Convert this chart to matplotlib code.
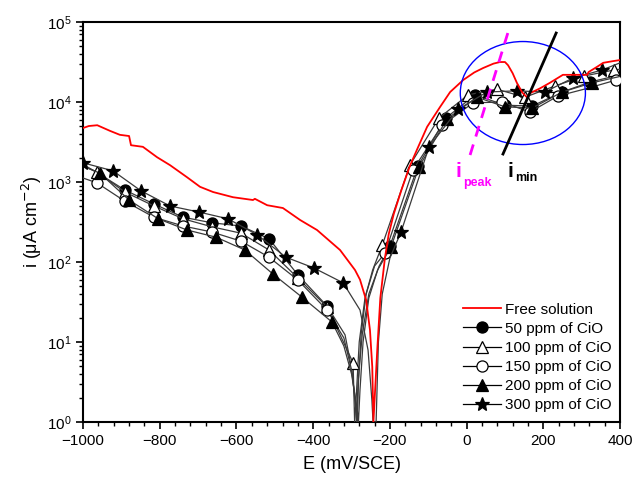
import matplotlib
matplotlib.use("Agg")
import matplotlib.pyplot as plt
from matplotlib.patches import Ellipse
from matplotlib.lines import Line2D
import matplotlib.ticker as mticker

plt.rcParams["font.family"] = ["Liberation Sans", "DejaVu Sans"]

# free solution (red), E in mV/SCE, log10(i)
free_E = [-1000, -985, -963, -930, -904, -880, -875, -844, -807, -773, -729, -695,
          -661, -609, -557, -552, -520, -479, -434, -390, -330, -291, -278, -262,
          -252, -246, -243, -233, -225, -213, -203, -190, -170, -148, -128, -103,
          -69, -43, -9, 20, 43, 70, 87, 100, 108, 120, 131, 145, 157, 165, 191,
          217, 251, 288, 314, 318, 340, 356, 380, 400]
free_log = [3.675, 3.70, 3.71, 3.64, 3.59, 3.575, 3.46, 3.44, 3.31, 3.21, 3.06, 2.94,
            2.875, 2.81, 2.775, 2.79, 2.71, 2.675, 2.525, 2.40, 2.15, 1.90, 1.78, 1.525,
            1.15, 0.69, 0.0, 0.90, 1.55, 2.05, 2.35, 2.60, 2.90, 3.20, 3.42, 3.69,
            3.94, 4.125, 4.275, 4.37, 4.425, 4.48, 4.50, 4.50, 4.46, 4.36, 4.24, 4.12,
            4.06, 4.11, 4.17, 4.24, 4.34, 4.34, 4.34, 4.375, 4.44, 4.49, 4.51, 4.525]

# inhibitor series: line points and marker points (E, log10 i)
c50_E = [-1000, -964, -891, -815, -739, -664, -588, -515, -440, -364, -317, -299,
         -289, -287, -283, -272, -255, -228, -200, -127, -54, 22, 100, 171, 249, 322, 400]
c50_log = [3.22, 3.12, 2.90, 2.725, 2.56, 2.49, 2.45, 2.29, 1.84, 1.45, 1.09, 0.65,
           0.15, 0.0, 0.5, 1.1, 1.6, 1.95, 2.20, 3.20, 3.80, 4.09, 3.96, 3.95, 4.125, 4.25, 4.34]
c50_mk = [-891, -815, -739, -664, -588, -515, -440, -364, -200, -127, -54, 22, 100, 171, 249, 322]

c100_E = [-1000, -964, -891, -815, -739, -664, -588, -515, -440, -364, -296, -292,
          -288, -280, -265, -245, -220, -148, -72, 4, 79, 152, 230, 306, 384, 400]
c100_log = [3.20, 3.125, 2.875, 2.70, 2.54, 2.44, 2.36, 2.15, 1.80, 1.44, 0.74, 0.0,
            0.3, 1.0, 1.55, 1.9, 2.21, 3.21, 3.80, 4.09, 4.16, 4.06, 4.20, 4.325, 4.40, 4.41]
c100_mk = [-964, -891, -815, -739, -664, -588, -515, -440, -364, -296, -220, -148,
           -72, 4, 79, 152, 230, 306, 384]

c150_E = [-1000, -964, -891, -815, -739, -664, -588, -515, -440, -364, -320, -300,
          -288, -285, -282, -275, -262, -240, -213, -140, -64, 17, 92, 165, 238, 314, 390, 400]
c150_log = [3.05, 2.99, 2.76, 2.56, 2.45, 2.375, 2.26, 2.06, 1.775, 1.40, 1.05, 0.65,
            0.2, 0.0, 0.5, 1.1, 1.6, 1.95, 2.11, 3.15, 3.71, 3.99, 4.00, 3.875, 4.075,
            4.17, 4.275, 4.28]
c150_mk = [-964, -891, -815, -739, -664, -588, -515, -440, -364, -213, -140, -64,
           17, 92, 165, 238, 390]

c200_E = [-1000, -956, -880, -804, -729, -653, -578, -505, -429, -351, -320, -300,
          -285, -282, -278, -270, -255, -232, -197, -124, -51, 27, 100, 171, 249, 327, 400]
c200_log = [3.20, 3.11, 2.775, 2.54, 2.40, 2.31, 2.15, 1.85, 1.56, 1.25, 0.95, 0.6,
            0.15, 0.0, 0.4, 1.0, 1.55, 1.9, 2.19, 3.19, 3.79, 4.06, 3.94, 3.925, 4.125, 4.24, 4.32]
c200_mk = [-956, -880, -804, -729, -653, -578, -505, -429, -351, -197, -124, -51,
           27, 100, 171, 249, 327]

c300_E = [-1000, -922, -849, -773, -698, -622, -546, -471, -398, -322, -278, -257,
          -247, -244, -236, -230, -220, -200, -171, -98, -22, 53, 131, 204, 277, 353, 400]
c300_log = [3.24, 3.14, 2.89, 2.70, 2.625, 2.54, 2.34, 2.06, 1.925, 1.74, 1.40, 0.90,
            0.275, 0.0, 0.0, 1.0, 1.6, 2.05, 2.375, 3.44, 3.91, 4.125, 4.14, 4.125,
            4.30, 4.40, 4.49]
c300_mk = [-1000, -922, -849, -773, -698, -622, -546, -471, -398, -322, -171, -98,
           -22, 53, 131, 204, 277, 353]

labels = ["Free solution", "50 ppm of CiO", "100 ppm of CiO", "150 ppm of CiO",
          "200 ppm of CiO", "300 ppm of CiO"]

fig, ax = plt.subplots(figsize=(6.34, 4.79), dpi=100)
fig.subplots_adjust(left=0.131, right=0.978, top=0.954, bottom=0.119)

ax.plot(free_E, [10 ** v for v in free_log], color="red", lw=1.3, zorder=4)

series = [
    (c50_E, c50_log, c50_mk, "o", "black", 8),
    (c100_E, c100_log, c100_mk, "^", "white", 9),
    (c150_E, c150_log, c150_mk, "o", "white", 8),
    (c200_E, c200_log, c200_mk, "^", "black", 9),
    (c300_E, c300_log, c300_mk, "*", "black", 10),
]
handles = [Line2D([], [], color="red", lw=1.3)]
for E, lg, mk, m, fc, ms in series:
    idx = [E.index(v) for v in mk]
    ax.plot(E, [10 ** v for v in lg], color="#3a3a3a", lw=0.9, marker=m, ms=ms,
            mfc=fc, mec="black", mew=0.9, markevery=idx, zorder=3)
    handles.append(Line2D([], [], color="black", lw=0.9, marker=m, ms=ms,
                          mfc=fc, mec="black", mew=0.9))

ax.set_yscale("log")
ax.set_xlim(-1000, 400)
ax.set_ylim(1, 1e5)
ax.xaxis.set_major_locator(mticker.MultipleLocator(200))
ax.xaxis.set_minor_locator(mticker.MultipleLocator(40))
ax.yaxis.set_major_locator(mticker.LogLocator(base=10, numticks=10))
ax.yaxis.set_minor_locator(mticker.LogLocator(base=10, subs=range(2, 10), numticks=20))
ax.yaxis.set_minor_formatter(mticker.NullFormatter())
ax.tick_params(which="major", direction="out", length=5, width=1.2, labelsize=11,
               top=False, right=False)
ax.tick_params(which="minor", direction="out", length=3, width=1.0, top=False, right=False)
for s in ax.spines.values():
    s.set_linewidth(1.5)

ax.set_xlabel("E (mV/SCE)", fontsize=13, labelpad=6)
ax.set_ylabel("i (\u03bcA cm$^{-2}$)", fontsize=13, labelpad=2)

# annotations
ax.add_patch(Ellipse((0.819, 0.8225), 0.233, 0.2575, transform=ax.transAxes,
                     fill=False, ec="blue", lw=1.0, zorder=5))
ax.plot([0.791, 0.7207], [0.9725, 0.6675], transform=ax.transAxes, color="magenta",
        lw=2, ls=(0, (4, 3)), zorder=5)
ax.plot([0.881, 0.782], [0.9725, 0.67], transform=ax.transAxes, color="black",
        lw=2, zorder=5)
ax.text(0.694, 0.65, "i", transform=ax.transAxes, color="magenta", fontsize=15,
        fontweight="bold", va="top", ha="left")
ax.text(0.708, 0.612, "peak", transform=ax.transAxes, color="magenta", fontsize=9,
        fontweight="bold", va="top", ha="left")
ax.text(0.791, 0.65, "i", transform=ax.transAxes, color="black", fontsize=15,
        fontweight="bold", va="top", ha="left")
ax.text(0.805, 0.625, "min", transform=ax.transAxes, color="black", fontsize=9,
        fontweight="bold", va="top", ha="left")

ax.legend(handles, labels, loc="lower left", bbox_to_anchor=(0.707, 0.025),
          frameon=False, fontsize=11, handlelength=2.5, handletextpad=0.3,
          labelspacing=0.33, borderpad=0, borderaxespad=0)

fig.savefig("out.png", dpi=100)
